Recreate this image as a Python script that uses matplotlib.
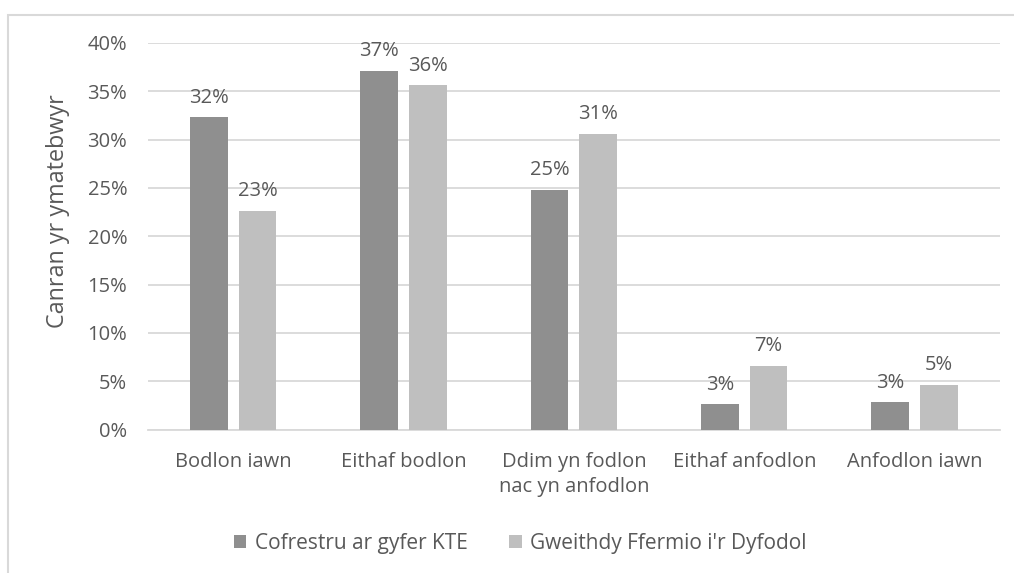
import matplotlib.pyplot as plt
from matplotlib.patches import Rectangle
import numpy as np

categories = ["Bodlon iawn", "Eithaf bodlon", "Ddim yn fodlon\nnac yn anfodlon",
              "Eithaf anfodlon", "Anfodlon iawn"]
series_names = ["Cofrestru ar gyfer KTE", "Gweithdy Ffermio i'r Dyfodol"]
kte = [32.3, 37.1, 24.8, 2.6, 2.8]
gweithdy = [22.6, 35.6, 30.6, 6.6, 4.6]
yticks = [0, 5, 10, 15, 20, 25, 30, 35, 40]

text_col = "#595959"
grid_col = "#d9d9d9"
colors = ["#8f8f8f", "#bfbfbf"]

plt.rcParams['font.family'] = ['Open Sans', 'DejaVu Sans']

fig = plt.figure(figsize=(10.14, 5.73), dpi=100)
ax = fig.add_axes([0.146, 0.2504, 0.986 - 0.146, 0.925 - 0.2504])

# outer chart frame (partly cut off on the right and bottom)
fig.patches.append(Rectangle((8 / 1014, -0.1), 1.2, (573 - 15) / 573 + 0.1,
                             transform=fig.transFigure, fill=False,
                             edgecolor=grid_col, linewidth=1.5))

x = np.arange(len(categories))
w = 0.221
off = 0.143
for i, (vals, name) in enumerate(zip([kte, gweithdy], series_names)):
    pos = x - off if i == 0 else x + off
    bars = ax.bar(pos, vals, width=w, color=colors[i], label=name, zorder=3)
    for b, v in zip(bars, vals):
        ax.annotate(f"{v:.0f}%", (b.get_x() + b.get_width() / 2, v),
                    xytext=(0, 7), textcoords="offset points",
                    ha="center", va="bottom", fontsize=14.5, color=text_col)

ax.set_xlim(-0.5, len(categories) - 0.5)
ax.set_ylim(0, 40)
ax.set_yticks(yticks)
ax.set_yticklabels([f"{t}%" for t in yticks])
ax.set_xticks(x)
ax.set_xticklabels(categories, linespacing=1.35)
ax.yaxis.grid(True, color=grid_col, linewidth=1.3, zorder=0)
ax.tick_params(axis="both", length=0, labelsize=14.5, labelcolor=text_col)
ax.tick_params(axis="x", pad=16)
ax.tick_params(axis="y", pad=15)
for s in ["top", "right", "left"]:
    ax.spines[s].set_visible(False)
ax.spines["bottom"].set_color(grid_col)
ax.spines["bottom"].set_linewidth(1.3)

ax.set_ylabel("Canran yr ymatebwyr", fontsize=16.8, color=text_col)
ax.yaxis.set_label_coords(-0.0915, 0.565)

ax.legend(loc="center", bbox_to_anchor=(0.513, 0.052), bbox_transform=fig.transFigure,
          ncol=2, frameon=False, fontsize=15, labelcolor=text_col,
          handlelength=0.6, handleheight=0.6, handletextpad=0.4, columnspacing=2.0)

fig.savefig("out.png", dpi=100)
